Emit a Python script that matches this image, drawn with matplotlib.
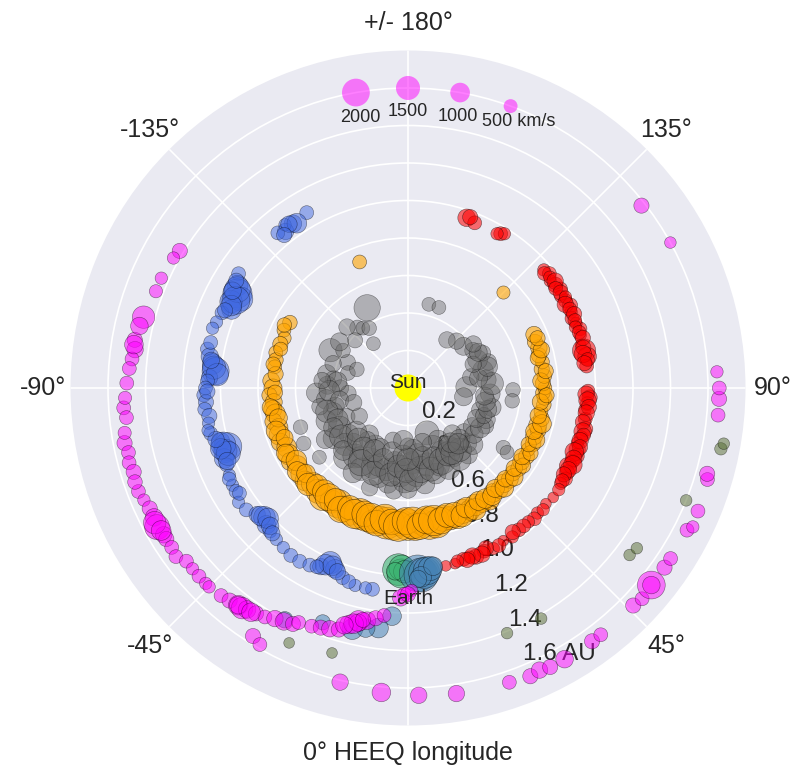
import numpy as np
import matplotlib
matplotlib.use("Agg")
import matplotlib.pyplot as plt

plt.rcParams['font.family'] = ['Liberation Sans', 'DejaVu Sans']

# ---------------- data: (HEEQ longitude [deg], distance [AU], speed [km/s]) ----------------
messenger = [(-153,0.48,1800),(166,0.46,500),(159,0.46,500),(-140,0.42,600),(-143,0.40,500),(-132,0.38,600),
    (-142,0.30,500),(-116,0.46,1400),(-113,0.35,650),(-104,0.33,550),(-97,0.40,700),(-92,0.43,850),(-87,0.49,1000),
    (-90,0.36,700),(-82,0.44,1000),(-85,0.32,650),(-76,0.40,850),(-72,0.42,1000),(-68,0.47,1100),(-65,0.36,700),
    (-60,0.42,1300),(-56,0.48,1100),(-52,0.40,1000),(-48,0.45,1300),(-45,0.41,850),(-42,0.50,1400),(-38,0.46,1500),
    (-35,0.45,1100),(-30,0.50,1300),(-27,0.42,1000),(-24,0.46,1400),(-21,0.57,700),(-18,0.50,1100),(-15,0.45,1300),
    (-12,0.52,1000),(-8,0.55,850),(-5,0.46,1700),(-2,0.50,1300),(0,0.54,850),(0,0.31,700),(3,0.40,1300),(6,0.46,1700),
    (10,0.52,1000),(14,0.42,1400),(18,0.48,1100),(23,0.26,1500),(23,0.34,1300),(22,0.45,1000),(28,0.38,1100),
    (33,0.44,1000),(38,0.40,850),(42,0.48,850),(47,0.43,1000),(52,0.38,700),(59,0.40,850),(64,0.46,700),
    (68,0.45,850),(73,0.40,700),(77,0.46,850),(86,0.44,1000),(91,0.31,1100),(81,0.30,850),(96,0.42,1000),
    (89,0.56,550),(83,0.56,550),(103,0.41,1100),(108,0.45,700),(112,0.40,1000),(120,0.40,700),(127,0.37,850),
    (134,0.36,700),(141,0.33,700),(58,0.60,550),(57,0.63,500),(-70,0.61,550),(-62,0.63,550),(-52,0.60,500),
    (-21,0.44,1300),(-10,0.40,1100),(-30,0.35,1000),(-40,0.32,850),(-16,0.29,700),(-25,0.35,850),(-38,0.35,700),
    (-120,0.40,550),(-100,0.44,850),(-78,0.48,700),(-58,0.52,850),(-33,0.54,1000),(8,0.36,1300),(30,0.32,1000),
    (44,0.34,850),(100,0.34,700),(115,0.44,650),
    (-95,0.38,1000),(-88,0.42,1100),(-80,0.37,850),(-74,0.45,1300),(-66,0.41,1100),(-62,0.45,1000),(-54,0.44,1400),
    (-50,0.36,1100),(-46,0.48,1000),(-44,0.38,1300),(-36,0.40,1400),(-32,0.47,1800),(-28,0.38,1300),(-22,0.49,1500),
    (-19,0.40,1100),(-14,0.35,1000),(-11,0.47,1400),(-7,0.42,1300),(-4,0.36,1100),(-1,0.44,1500),(2,0.49,1400),
    (5,0.33,1100),(9,0.44,1800),(12,0.38,1300),(16,0.45,1500),(20,0.40,1400),(25,0.43,1800),(27,0.48,1300),
    (31,0.41,1500),(35,0.38,1100),(36,0.47,1300),(40,0.43,1400),(45,0.39,1100),(49,0.46,1000),(55,0.43,850),
    (61,0.44,1000),(66,0.40,850),(70,0.43,700),(75,0.44,850),(80,0.42,1000),(84,0.41,850),(93,0.45,1300),
    (98,0.38,850),(105,0.44,1000),(110,0.37,700),(117,0.42,850),(124,0.42,700),(-108,0.42,700),(-124,0.44,850),
    (-135,0.46,700),(-147,0.38,550),(-95,0.46,700),(-110,0.29,550),(-60,0.30,700),(-75,0.30,700),(15,0.30,850),
    (0,0.38,1300),(-5,0.28,1000),(34,0.42,1300),(38,0.37,1000),(42,0.40,1100)]

vex = [(-159,0.72,500),(135,0.72,450),(-119,0.72,550),(-115,0.73,500),(-112,0.71,450),(-109,0.72,600),
    (-105,0.73,500),(-102,0.72,550),(-99,0.72,500),(-93,0.73,750),(-90,0.72,850),(-87,0.74,600),(-84,0.72,750),
    (-81,0.73,850),(-79,0.72,1000),(-76,0.74,750),(-73,0.72,850),(-70,0.73,1100),(-67,0.74,850),(-64,0.72,1000),
    (-61,0.73,1100),(-58,0.74,850),(-55,0.72,1000),(-51,0.73,1200),(-48,0.74,1000),(-45,0.72,1300),(-41,0.73,1500),
    (-38,0.74,1800),(-34,0.73,1400),(-31,0.72,2100),(-28,0.73,1700),(-25,0.74,1400),(-21,0.72,2500),
    (-18,0.73,1800),(-15,0.74,1500),(-12,0.72,2000),(-9,0.73,2600),(-6,0.74,2100),(-3,0.72,1800),(0,0.73,2500),
    (3,0.74,2000),(6,0.72,1700),(9,0.73,2700),(12,0.74,2100),(15,0.72,1700),(18,0.73,1400),(21,0.74,1300),
    (24,0.72,1500),(27,0.73,1100),(30,0.72,1200),(33,0.73,950),(36,0.74,1000),(39,0.72,900),(42,0.73,800),
    (45,0.72,900),(48,0.73,750),(51,0.72,650),(54,0.73,650),(57,0.72,750),(60,0.73,650),(63,0.72,500),
    (66,0.73,650),(69,0.72,750),(72,0.73,650),(74,0.72,850),(77,0.73,650),(80,0.72,500),(83,0.73,550),
    (86,0.73,600),(88,0.72,550),(90,0.73,500),(92,0.72,600),(95,0.73,550),(98,0.72,600),(101,0.73,500),
    (104,0.72,600),(107,0.73,700),(110,0.72,600),(113,0.73,700),
    (-88,0.71,600),(-82,0.74,750),(-77,0.71,850),(-72,0.74,1000),(-68,0.71,750),(-62,0.74,850),(-57,0.71,1100),
    (-53,0.74,1000),(-50,0.71,900),(-46,0.74,1300),(-43,0.71,1200),(-39,0.71,1400),(-36,0.72,1900),(-33,0.71,1300),
    (-29,0.74,1800),(-26,0.71,1500),(-23,0.73,2200),(-19,0.71,1700),(-16,0.72,2200),(-13,0.74,1700),
    (-10,0.71,2300),(-7,0.72,1700),(-4,0.74,2300),(-1,0.71,1900),(2,0.72,2600),(5,0.74,1800),(8,0.71,2000),
    (11,0.72,2400),(14,0.73,1800),(17,0.71,1500),(20,0.72,1600),(23,0.74,1300),(26,0.71,1100),(29,0.74,1200),
    (32,0.71,950),(35,0.72,1000),(38,0.73,950),(41,0.71,850),(44,0.74,900),(47,0.71,700),(50,0.74,800),
    (53,0.71,700),(56,0.74,600),(59,0.71,700),(62,0.74,600),(65,0.71,600),(68,0.74,700),(71,0.71,700),
    (75,0.74,900),(78,0.71,700),(84,0.71,700),(87,0.74,600),(93,0.71,700),(97,0.74,600),(103,0.71,600),
    (106,0.74,700),(111,0.74,600),(-96,0.71,600),(-107,0.71,500),(-117,0.74,550),(-100,0.73,550)]

stereo_a = [(161,0.96,800),(158,0.95,500),(149,0.96,500),(148,0.97,400),(131,0.96,400),(129,0.97,500),
    (127,0.95,400),(125,0.96,600),(123,0.97,500),(121,0.95,400),(119,0.96,500),(117,0.97,600),(115,0.96,400),
    (113,0.95,500),(111,0.96,400),(109,0.97,500),(107,0.96,400),(104,0.95,300),(102,0.96,1400),(100,0.97,900),
    (97,0.96,500),(89,0.96,500),(87,0.97,600),(85,0.96,500),(83,0.95,400),(80,0.96,500),(77,0.97,600),
    (74,0.96,500),(72,0.95,400),(70,0.96,700),(68,0.97,600),(66,0.96,500),(64,0.95,800),(62,0.96,600),
    (60,0.97,500),(58,0.96,400),(53,0.97,300),(50,0.96,300),(46,0.96,400),(44,0.97,500),(42,0.96,400),
    (38,0.96,500),(35,0.97,400),(32,0.96,300),(28,0.97,400),(25,0.96,500),(22,0.97,600),(20,0.96,400),
    (18,0.96,500),(15,0.97,300),(12,0.97,300),
    (130,0.95,500),(128,0.96,400),(126,0.97,700),(124,0.95,500),(122,0.96,600),(120,0.97,400),(118,0.95,700),
    (116,0.96,500),(114,0.97,600),(112,0.96,500),(110,0.95,400),(108,0.96,500),(106,0.97,600),(103,0.96,600),
    (101,0.95,800),(99,0.97,500),(98,0.95,600),(88,0.95,700),(86,0.96,800),(84,0.97,600),(82,0.96,700),
    (79,0.95,600),(76,0.96,800),(75,0.97,500),(73,0.96,700),(71,0.97,600),(69,0.95,900),(67,0.96,700),
    (65,0.97,900),(63,0.96,700),(61,0.95,600),(59,0.96,500),(56,0.97,400),(48,0.97,400),(40,0.96,500),
    (36,0.95,600),(30,0.97,500),(26,0.95,600),(24,0.97,700),(21,0.96,700),(19,0.97,600),(16,0.96,400),
    (160,0.97,600),(150,0.95,400)]

stereo_b = [(-150,1.08,500),(-145,1.07,800),(-142,1.06,700),(-140,1.08,500),(-143,1.09,400),(-124,1.09,500),
    (-121,1.06,1100),(-119,1.04,2200),(-118,1.01,1500),(-116,1.05,1300),(-114,1.03,1000),(-112,1.07,500),
    (-109,1.08,400),(-107,1.09,400),(-101,1.09,500),(-99,1.07,800),(-97,1.05,1100),(-95,1.03,1900),
    (-93,1.06,700),(-88,1.09,500),(-86,1.08,600),(-84,1.09,500),(-82,1.07,600),(-80,1.08,400),(-77,1.08,500),
    (-74,1.04,900),(-72,1.01,2000),(-71,1.03,1400),(-69,1.05,1000),(-67,1.05,500),(-64,1.06,400),(-61,1.07,400),
    (-59,1.07,500),(-56,1.09,400),(-53,1.08,500),(-50,1.05,700),(-48,1.03,1200),(-46,1.05,900),(-44,1.06,500),
    (-41,1.07,400),(-38,1.08,400),(-35,1.09,500),(-32,1.09,500),(-29,1.08,500),(-26,1.06,700),(-24,1.02,1300),
    (-22,1.04,900),(-19,1.07,500),(-15,1.09,400),(-10,1.09,500),
    (-146,1.06,1000),(-144,1.08,700),(-141,1.05,600),(-120,1.05,1700),(-117,1.03,2000),(-115,1.04,1100),
    (-119,1.07,800),(-122,1.08,600),(-113,1.06,600),(-96,1.04,1400),(-94,1.02,1300),(-98,1.06,700),
    (-92,1.07,500),(-90,1.08,500),(-73,1.03,1600),(-70,1.02,1500),(-72,1.05,1100),(-75,1.06,700),(-68,1.04,800),
    (-78,1.09,400),(-49,1.04,1000),(-47,1.02,1100),(-45,1.04,800),(-43,1.06,600),(-25,1.04,1100),(-23,1.03,1000),
    (-21,1.05,700),(-27,1.07,500),(-17,1.08,500),(-12,1.09,400),(-58,1.06,500),(-63,1.07,500),(-89,1.07,600),
    (-103,1.08,500)]

wind = [(-3,0.97,2600),(-2,0.99,2200),(-2,0.96,1700),(-1,0.98,1300),(-4,0.98,800)]

earth_l1 = [(3,0.99,3500),(4,1.00,3000),(5,0.99,2500),(6,0.98,2000),(7,0.97,1500),(4,1.01,1100),(3,1.02,800),
    (8,0.96,900),(-4,1.22,900),(-7,1.29,1000),(-13,1.32,1100),(-10,1.30,900),(-28,1.40,700),(-20,1.33,600)]

maven = [(-121,1.42,600),(-114,1.44,400),(-111,1.44,450),(-105,1.46,1300),(-100,1.48,600),(-98,1.47,700),
    (-96,1.48,500),(-91,1.50,500),(-86,1.52,500),(-84,1.51,500),(-79,1.54,600),(-77,1.53,500),(-75,1.54,500),
    (-73,1.53,600),(-69,1.54,500),(-67,1.53,400),(-65,1.52,600),(-63,1.52,800),(-61,1.53,1600),(-59,1.52,700),
    (-58,1.52,600),(-56,1.52,500),(-54,1.53,500),(-52,1.50,500),(-50,1.50,400),(-48,1.50,500),(-46,1.50,400),
    (-45,1.50,400),(-42,1.49,500),(-40,1.48,600),(-38,1.47,1000),(-37,1.47,1200),(-36,1.46,800),(-34,1.45,600),
    (-32,1.44,500),(-30,1.42,700),(-28,1.41,800),(-26,1.40,600),(-25,1.38,500),(-22,1.37,500),(-20,1.36,600),
    (-18,1.35,700),(-16,1.34,600),(-14,1.30,900),(-12,1.27,1100),(-10,1.26,800),(-8,1.24,600),(-6,1.22,500),
    (-1,1.10,500),(1,1.08,400),(-32,1.56,600),(-30,1.58,500),(-13,1.61,700),(-5,1.63,900),(2,1.64,700),
    (9,1.65,700),(19,1.66,500),(23,1.67,600),(25,1.66,700),(27,1.67,600),(30,1.67,800),(36,1.67,600),
    (38,1.67,500),(46,1.67,600),(48,1.68,500),(51,1.67,2000),(51,1.67,800),(55,1.67,600),(57,1.67,500),
    (63,1.67,500),(64,1.69,400),(67,1.68,500),(73,1.67,500),(74,1.66,600),(85,1.66,500),(88,1.66,600),
    (90,1.66,500),(93,1.65,400),(128,1.58,600),(119,1.60,350),
    (-119,1.43,400),(-103,1.47,800),(-99,1.48,900),(-94,1.49,500),(-88,1.51,450),(-81,1.53,450),(-71,1.54,550),
    (-62,1.53,1300),(-60,1.52,1000),(-38,1.47,800),(-35,1.46,900),(-12,1.28,800),(-13,1.29,1000),
    (-15,1.31,800),(-11,1.26,600),(-2,1.12,700),(0,1.10,600)]

ulysses = [(79,1.70,400),(80,1.71,350),(68,1.60,350),(53,1.48,350),(55,1.49,350),(22,1.41,350),(30,1.42,350),
    (-25,1.50,300),(-16,1.47,300)]

legend_speeds = [2000, 1500, 1000, 500]
legend_labels = ['2000', '1500', '1000', '500 km/s']

r_ticks = [0.2, 0.4, 0.6, 0.8, 1.0, 1.2, 1.4, 1.6]
r_ticklabels = ['0.2', '0.4', '0.6', '0.8', '1.0', '1.2', '1.4', '1.6 AU']
theta_ticks = [0, 45, 90, 135, 180, 225, 270, 315]
theta_ticklabels = ['0° HEEQ longitude', '45°', '90°', '135°', '+/- 180°', '-135°', '-90°', '-45°']

groups = [
    (messenger, 'dimgrey', 0.45),
    (vex, 'orange', 0.6),
    (stereo_a, 'red', 0.55),
    (stereo_b, 'royalblue', 0.5),
    (wind, 'mediumseagreen', 0.6),
    (earth_l1, 'steelblue', 0.55),
    (maven, 'magenta', 0.5),
    (ulysses, 'darkolivegreen', 0.5),
]

def size(v):
    return np.asarray(v, dtype=float) / 5.0

# ---------------- figure ----------------
fig = plt.figure(figsize=(7.98, 7.69), dpi=100)
ax = fig.add_axes([70.5 / 798, 43.5 / 769, 675 / 798, 675 / 769], projection='polar')
ax.set_facecolor('#EAEAF2')
ax.set_theta_zero_location('S')
ax.set_theta_direction(1)
ax.set_ylim(0, 1.8)
ax.spines['polar'].set_visible(False)
ax.set_axisbelow(True)
ax.grid(True, color='white', linewidth=1.2)

ax.set_xticks(np.deg2rad(theta_ticks))
ax.set_xticklabels(theta_ticklabels, fontsize=18, color='.15')
ax.tick_params(axis='x', pad=13, length=0)
ax.set_yticks(r_ticks)
ax.set_yticklabels(r_ticklabels, fontsize=17.5, color='.15')
ax.set_rlabel_position(22.5)
ax.tick_params(axis='y', length=0)

for data, col, a in groups:
    lon, r, v = zip(*data)
    ax.scatter(np.deg2rad(lon), r, s=size(v), c=col, alpha=a,
               edgecolors='k', linewidths=0.4, zorder=2)

# Sun
ax.scatter([0], [0], s=380, c='yellow', edgecolors='none', zorder=4)
ax.text(0, 0, 'Sun', ha='center', va='baseline', fontsize=15, color='.15', zorder=5)
# Earth label
ax.text(0, 1.12, 'Earth', ha='center', va='center', fontsize=15, color='.15', zorder=5)

# speed legend
leg_lon = [190, 180, 170, 160]
ax.scatter(np.deg2rad(leg_lon), [1.6] * 4, s=size(legend_speeds), c='magenta', alpha=0.5,
           edgecolors='none', zorder=3)
leg_txt_pos = [(190, 1.467), (180, 1.472), (169.5, 1.47), (157.4, 1.542)]
for (lo, rr), lab in zip(leg_txt_pos, legend_labels):
    ax.text(np.deg2rad(lo), rr, lab, ha='center', va='center', fontsize=13, color='.15', zorder=5)

fig.savefig('out.png', dpi=100, facecolor='white')
